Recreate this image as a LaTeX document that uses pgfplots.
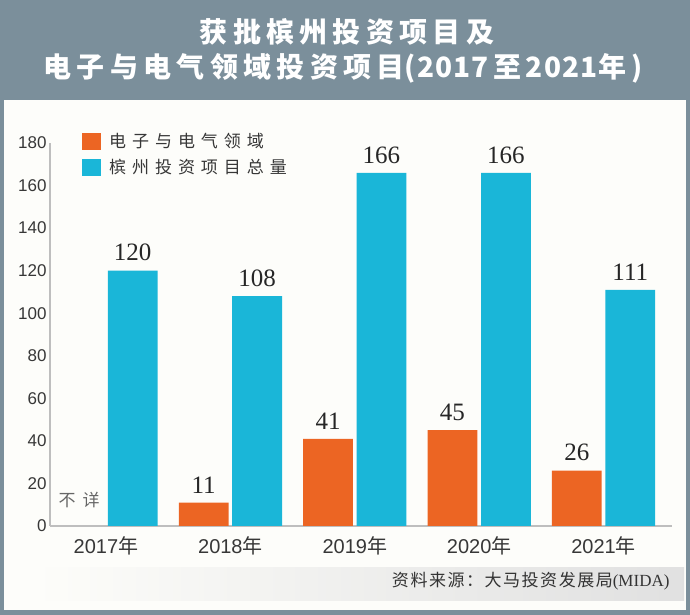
\documentclass[border=0pt]{standalone}
\usepackage{pgfplots}
\pgfplotsset{compat=1.18}
\usepackage{fontspec}
\setmainfont{Liberation Sans}
\newfontfamily\cjk{Noto Sans CJK SC}
\newfontfamily\cjklegend{Noto Sans CJK SC}[LetterSpace=35]
\newfontfamily\cjktitle{Noto Sans CJK SC}[LetterSpace=19]
\newfontfamily\cjktitlenum{Noto Sans CJK SC}[LetterSpace=4]
\newfontfamily\cjksrc{Noto Sans CJK SC}[LetterSpace=9]
\newfontfamily\valfont{Liberation Serif}
\definecolor{bg}{RGB}{123,143,155}
\definecolor{panel}{RGB}{253,253,250}
\definecolor{myorange}{RGB}{236,101,35}
\definecolor{mycyan}{RGB}{26,182,216}
\definecolor{txt}{RGB}{55,55,55}
\definecolor{axisgray}{RGB}{190,190,190}

\begin{document}
\begin{tikzpicture}[x=1pt,y=1pt]
\useasboundingbox (0,0) rectangle (690,615);
\fill[bg] (0,0) rectangle (690,615);
\fill[panel] (4,5) rectangle (686,515);
\shade[left color=panel, right color=black!12] (33,14) rectangle (684,47);
\node[text=white, font=\cjktitle\bfseries\fontsize{28}{30}\selectfont] at (347,583) {获批槟州投资项目及};
\node[text=white, font=\cjktitle\bfseries\fontsize{28}{30}\selectfont] at (343,547) {电子与电气领域投资项目{\cjktitlenum\bfseries(2017\,至\,2021年\,)}};

\begin{axis}[
  at={(50pt,89pt)}, anchor=south west,
  scale only axis, width=622pt, height=383pt,
  xmin=-0.45, xmax=4.55, ymin=0, ymax=180,
  ytick={0,20,...,180},
  xtick={0,1,2,3,4},
  xticklabels={2017{\cjk 年},2018{\cjk 年},2019{\cjk 年},2020{\cjk 年},2021{\cjk 年}},
  axis x line=bottom, axis y line=left,
  axis line style={axisgray, line width=1.5pt, -},
  major tick length=0pt,
  /pgf/number format/assume math mode=true,
  yticklabel style={text=txt, font=\fontsize{17}{20}\selectfont},
  xticklabel style={text=txt, font=\fontsize{20}{22}\selectfont, yshift=-7pt},
  legend style={at={(0.0514,1.031)}, anchor=north west, draw=none, fill=none,
    inner sep=0pt, row sep=6pt, cells={anchor=west},
    font=\cjklegend\fontsize{17}{17}\selectfont, text=txt,
    /tikz/every odd column/.append style={column sep=6pt}},
  legend image code/.code={\fill[#1, draw=none] (0pt,-8.5pt) rectangle (19pt,8.5pt);},
  clip=false,
]
\addplot[ybar, bar width=0.4, bar shift=-0.215, fill=myorange, draw=none,
  nodes near coords,
  nodes near coords style={font=\valfont\fontsize{25}{25}\selectfont, text=black!85, xshift=-26.7pt, yshift=6pt}]
  coordinates {(1,11) (2,41) (3,45) (4,26)};
\addlegendentry{电子与电气领域}
\addplot[ybar, bar width=0.4, bar shift=0.215, fill=mycyan, draw=none,
  nodes near coords,
  nodes near coords style={font=\valfont\fontsize{25}{25}\selectfont, text=black!85, xshift=26.7pt, yshift=6pt}]
  coordinates {(0,120) (1,108) (2,166) (3,166) (4,111)};
\addlegendentry{槟州投资项目总量}
\node[font=\cjk\fontsize{17}{17}\selectfont, text=black!60] at (axis cs:-0.215,0) [yshift=26pt] {不\hspace{7pt}详};
\end{axis}

\node[anchor=east, font=\cjksrc\fontsize{17}{17}\selectfont, text=black!80] at (673,34) {资料来源：大马投资发展局{\valfont (MIDA)}};
\end{tikzpicture}
\end{document}
